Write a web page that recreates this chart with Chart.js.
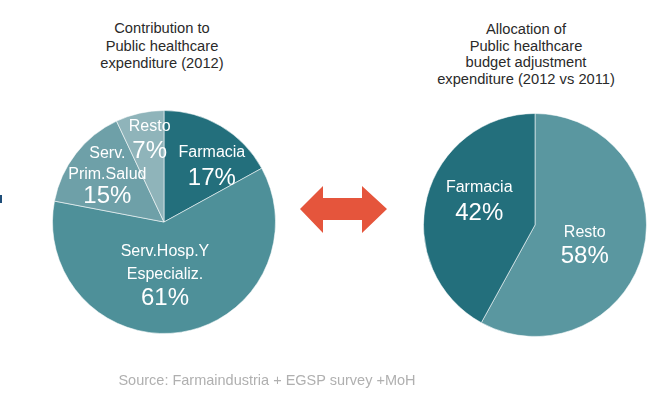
<!DOCTYPE html>
<html>
<head>
<meta charset="utf-8">
<script src="https://cdn.jsdelivr.net/npm/chart.js@4"></script>
<style>
  html, body { margin: 0; padding: 0; background: #fff; }
  body { width: 656px; height: 397px; position: relative; overflow: hidden;
         font-family: 'Liberation Sans', Arial, sans-serif; }
  .title { position: absolute; top: 20px; text-align: center; color: #2a2a2a;
           font-size: 14.7px; line-height: 17.5px; white-space: nowrap; }
  #leftWrap { position: absolute; left: 44px; top: 102px; width: 240px; height: 240px; }
  #rightWrap { position: absolute; left: 415px; top: 105px; width: 240px; height: 240px; }
  #source { position: absolute; left: 0; width: 534px; top: 372px; text-align: center;
            color: #b0b0b0; font-size: 14.5px; }
  #mark { position: absolute; left: 0; top: 195px; width: 2px; height: 8px; background: #1f4e79; }
</style>
</head>
<body>
<div class="title" style="left:62px;width:200px;">Contribution to<br>Public healthcare<br>expenditure (2012)</div>
<div class="title" style="left:416px;width:220px;line-height:16.5px;top:21px;">Allocation of<br>Public healthcare<br>budget adjustment<br>expenditure (2012 vs 2011)</div>
<div id="mark"></div>
<div id="leftWrap"><canvas id="leftPie" width="240" height="240"></canvas></div>
<div id="rightWrap"><canvas id="rightPie" width="240" height="240"></canvas></div>
<svg style="position:absolute;left:0;top:0" width="656" height="397">
  <polygon points="300,209 323,186 323,198 362,198 362,186 387,209 362,233 362,220 323,220 323,233" fill="#e5553c"/>
</svg>
<div id="source">Source: Farmaindustria + EGSP survey +MoH</div>

<script>
// data
const leftCategories = ['Farmacia', 'Serv.Hosp.Y Especializ.', 'Serv. Prim.Salud', 'Resto'];
const leftValues = [17, 61, 15, 7];
const rightCategories = ['Resto', 'Farmacia'];
const rightValues = [58, 42];

// how the names break onto lines inside the slices
const leftNameLines = [['Farmacia'], ['Serv.Hosp.Y', 'Especializ.'], ['Serv.', 'Prim.Salud'], ['Resto']];
const rightNameLines = [['Resto'], ['Farmacia']];

// label placement: fraction of radius along mid angle, pixel nudge, line gaps
const leftLabelPos = [
  { f: 0.62, dx: 12.7, dy: -5.2, gaps: [28] },
  { f: 0.40, dx: -6, dy: -10, gaps: [23, 26] },
  { f: 0.70, dx: 5, dy: -16, gaps: [21, 24] },
  { f: 0.78, dx: 4.6, dy: -5.7, gaps: [27] }
];
const rightLabelPos = [
  { f: 0.47, dx: -1, dy: -1, gaps: [26] },
  { f: 0.56, dx: 4.7, dy: -17.4, gaps: [28] }
];

const sliceLabels = {
  id: 'sliceLabels',
  afterDatasetsDraw(chart, args, opts) {
    const ctx = chart.ctx;
    const meta = chart.getDatasetMeta(0);
    const values = chart.data.datasets[0].data;
    meta.data.forEach((arc, i) => {
      const p = arc.getProps(['x', 'y', 'startAngle', 'endAngle', 'outerRadius'], true);
      const mid = (p.startAngle + p.endAngle) / 2;
      const pos = opts.pos[i];
      const ax = p.x + Math.cos(mid) * p.outerRadius * pos.f + pos.dx;
      let by = p.y + Math.sin(mid) * p.outerRadius * pos.f + pos.dy;
      const lines = opts.names[i].map(t => ({ t, s: 16 }));
      lines.push({ t: values[i] + '%', s: 24 });
      ctx.save();
      ctx.fillStyle = '#ffffff';
      ctx.textAlign = 'center';
      ctx.textBaseline = 'alphabetic';
      lines.forEach((ln, k) => {
        if (k > 0) by += pos.gaps[k - 1];
        ctx.font = ln.s + "px 'Liberation Sans', Arial, sans-serif";
        ctx.fillText(ln.t, ax, by);
      });
      ctx.restore();
    });
  }
};

function makePie(id, labels, values, colors, names, pos) {
  return new Chart(document.getElementById(id), {
    type: 'pie',
    data: {
      labels: labels,
      datasets: [{
        data: values,
        backgroundColor: colors,
        borderColor: 'rgba(255,255,255,0.55)',
        borderWidth: 1
      }]
    },
    options: {
      responsive: false,
      animation: false,
      layout: { padding: 8 },
      plugins: {
        legend: { display: false },
        tooltip: { enabled: false },
        sliceLabels: { names: names, pos: pos }
      }
    },
    plugins: [sliceLabels]
  });
}

makePie('leftPie', leftCategories, leftValues,
  ['#236f7c', '#4e9099', '#6ea0a8', '#8fb4ba'], leftNameLines, leftLabelPos);
makePie('rightPie', rightCategories, rightValues,
  ['#5a97a0', '#236f7c'], rightNameLines, rightLabelPos);
</script>
</body>
</html>
